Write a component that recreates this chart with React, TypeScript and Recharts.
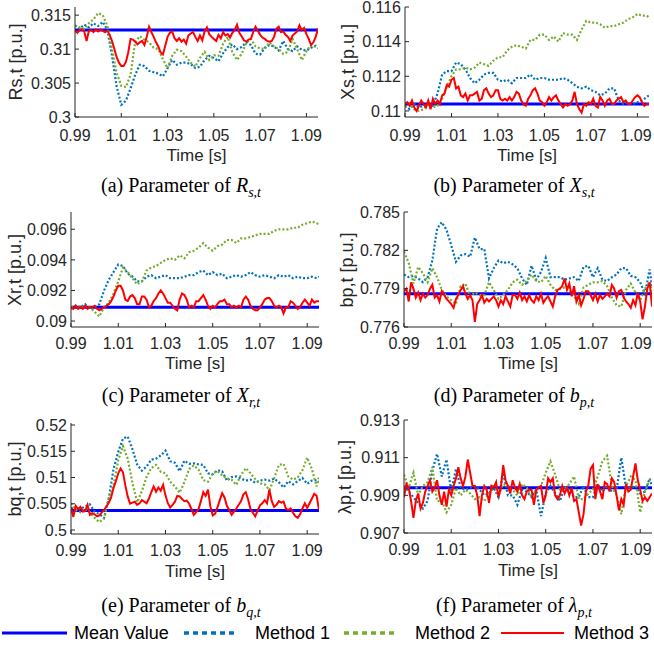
import React from 'react';
import { LineChart, Line, XAxis, YAxis } from 'recharts';

// ---------- sample grids ----------
const timeFine = Array.from({ length: 106 }, (_, i) => Math.round((0.99 + i * 0.001) * 1000) / 1000);
const timeCoarse = [...Array.from({ length: 53 }, (_, j) => Math.round((0.99 + j * 0.002) * 1000) / 1000), 1.095];
const timeMean = [0.99, 1.095];
const timeTicks = [0.99, 1.01, 1.03, 1.05, 1.07, 1.09];
const timeTickLabels = ['0.99', '1.01', '1.03', '1.05', '1.07', '1.09'];

// ---------- (a) Rs,t ----------
const rsMean = [0.3128, 0.3128];
const rsM1 = [0.3135,0.3130,0.3136,0.3132,0.3138,0.3134,0.3140,0.3128,0.3090,0.3045,
0.3018,0.3024,0.3042,0.3062,0.3077,0.3075,0.3068,0.3066,0.3064,0.3060,
0.3072,0.3084,0.3077,0.3080,0.3080,0.3078,0.3072,0.3074,0.3084,0.3090,
0.3087,0.3082,0.3094,0.3103,0.3107,0.3100,0.3103,0.3110,0.3106,0.3093,
0.3092,0.3102,0.3106,0.3104,0.3098,0.3112,0.3100,0.3097,0.3104,0.3099,
0.3098,0.3102,0.3105,0.3103];
const rsM2 = [0.3135,0.3132,0.3130,0.3138,0.3144,0.3153,0.3150,0.3134,0.3100,0.3065,
0.3046,0.3044,0.3062,0.3110,0.3119,0.3114,0.3110,0.3102,0.3100,0.3085,
0.3072,0.3090,0.3099,0.3097,0.3089,0.3080,0.3074,0.3087,0.3096,0.3084,
0.3091,0.3090,0.3108,0.3118,0.3095,0.3084,0.3093,0.3109,0.3115,0.3104,
0.3101,0.3100,0.3110,0.3104,0.3100,0.3093,0.3096,0.3115,0.3100,0.3084,
0.3097,0.3106,0.3103,0.3101];
const rsM3 = [0.3127,0.3124,0.3128,0.3129,0.3126,0.3112,0.3127,0.3128,0.3125,0.3129,
0.3126,0.3129,0.3127,0.3125,0.3127,0.3121,0.3112,0.3100,0.3088,0.3080,
0.3075,0.3075,0.3081,0.3095,0.3115,0.3114,0.3111,0.3107,0.3110,0.3112,
0.3106,0.3118,0.3133,0.3125,0.3118,0.3110,0.3104,0.3095,0.3092,0.3105,
0.3118,0.3124,0.3126,0.3116,0.3112,0.3116,0.3111,0.3114,0.3108,0.3120,
0.3123,0.3125,0.3118,0.3112,0.3120,0.3113,0.3126,0.3132,0.3122,0.3118,
0.3115,0.3112,0.3121,0.3116,0.3125,0.3120,0.3122,0.3117,0.3124,0.3128,
0.3136,0.3124,0.3119,0.3113,0.3111,0.3114,0.3115,0.3125,0.3133,0.3127,
0.3121,0.3117,0.3115,0.3112,0.3111,0.3112,0.3118,0.3130,0.3133,0.3125,
0.3126,0.3121,0.3118,0.3112,0.3120,0.3123,0.3126,0.3135,0.3128,0.3131,
0.3122,0.3115,0.3106,0.3110,0.3118,0.3130];
const rsTicks = [0.3, 0.305, 0.31, 0.315];
const rsTickLabels = ['0.3', '0.305', '0.31', '0.315'];

// ---------- (b) Xs,t ----------
const xsMean = [0.1104, 0.1104];
const xsM1 = [0.1103,0.1101,0.1104,0.1102,0.1103,0.1104,0.1103,0.1110,0.1121,0.1123,
0.1123,0.1128,0.1127,0.1124,0.1119,0.1116,0.1118,0.1121,0.1122,0.1122,
0.1118,0.1117,0.1118,0.1116,0.1119,0.1119,0.1119,0.1121,0.1118,0.1119,
0.1119,0.1118,0.1118,0.1118,0.1119,0.1118,0.1116,0.1114,0.1113,0.1114,
0.1112,0.1111,0.1109,0.1110,0.1113,0.1113,0.1106,0.1104,0.1105,0.1104,
0.1105,0.1106,0.1108,0.1109];
const xsM2 = [0.1102,0.1104,0.1101,0.1100,0.1101,0.1104,0.1102,0.1103,0.1107,0.1114,
0.1120,0.1124,0.1124,0.1125,0.1124,0.1125,0.1128,0.1127,0.1126,0.1129,
0.1131,0.1131,0.1135,0.1137,0.1138,0.1137,0.1136,0.1141,0.1141,0.1144,
0.1144,0.1141,0.1143,0.1140,0.1145,0.1144,0.1144,0.1141,0.1147,0.1152,
0.1151,0.1151,0.1150,0.1148,0.1149,0.1149,0.1150,0.1151,0.1153,0.1154,
0.1156,0.1155,0.1155,0.1154];
const xsM3 = [0.1104,0.1105,0.1103,0.1106,0.1102,0.1100,0.1103,0.1106,0.1104,0.1102,
0.1106,0.1101,0.1107,0.1104,0.1106,0.1104,0.1109,0.1110,0.1115,0.1114,
0.1118,0.1119,0.1113,0.1114,0.1109,0.1108,0.1110,0.1106,0.1109,0.1109,
0.1110,0.1111,0.1106,0.1107,0.1112,0.1113,0.1110,0.1108,0.1109,0.1112,
0.1112,0.1107,0.1106,0.1107,0.1106,0.1108,0.1106,0.1108,0.1111,0.1110,
0.1106,0.1104,0.1103,0.1107,0.1109,0.1112,0.1113,0.1110,0.1106,0.1105,
0.1103,0.1105,0.1108,0.1106,0.1108,0.1109,0.1106,0.1104,0.1102,0.1104,
0.1103,0.1104,0.1106,0.1111,0.1104,0.1101,0.1099,0.1104,0.1103,0.1105,
0.1104,0.1107,0.1103,0.1102,0.1108,0.1106,0.1103,0.1106,0.1107,0.1104,
0.1104,0.1106,0.1107,0.1108,0.1105,0.1106,0.1104,0.1104,0.1106,0.1108,
0.1109,0.1108,0.1105,0.1103,0.1104,0.1104];
const xsTicks = [0.11, 0.112, 0.114, 0.116];
const xsTickLabels = ['0.11', '0.112', '0.114', '0.116'];

// ---------- (c) Xr,t ----------
const xrMean = [0.0909, 0.0909];
const xrM1 = [0.0908,0.0910,0.0909,0.0911,0.0908,0.0909,0.0911,0.0920,0.0927,0.0932,
0.0937,0.0936,0.0931,0.0929,0.0926,0.0926,0.0929,0.0930,0.0928,0.0929,
0.0930,0.0928,0.0928,0.0928,0.0929,0.0930,0.0930,0.0932,0.0933,0.0930,
0.0932,0.0930,0.0931,0.0928,0.0929,0.0930,0.0929,0.0930,0.0932,0.0930,
0.0929,0.0930,0.0929,0.0928,0.0930,0.0929,0.0930,0.0928,0.0929,0.0928,
0.0928,0.0929,0.0928,0.0929];
const xrM2 = [0.0909,0.0910,0.0908,0.0910,0.0909,0.0906,0.0903,0.0909,0.0912,0.0918,
0.0926,0.0935,0.0932,0.0928,0.0924,0.0926,0.0933,0.0935,0.0936,0.0938,
0.0940,0.0941,0.0940,0.0943,0.0941,0.0945,0.0946,0.0948,0.0951,0.0948,
0.0946,0.0949,0.0950,0.0953,0.0953,0.0951,0.0954,0.0954,0.0955,0.0956,
0.0957,0.0957,0.0957,0.0959,0.0960,0.0960,0.0960,0.0961,0.0961,0.0963,
0.0964,0.0965,0.0964,0.0963];
const xrM3 = [0.0909,0.0908,0.0910,0.0908,0.0909,0.0908,0.0910,0.0908,0.0909,0.0909,
0.0910,0.0908,0.0907,0.0908,0.0909,0.0910,0.0911,0.0913,0.0916,0.0920,
0.0923,0.0923,0.0920,0.0914,0.0913,0.0916,0.0917,0.0915,0.0911,0.0911,
0.0916,0.0916,0.0914,0.0909,0.0910,0.0913,0.0915,0.0918,0.0920,0.0918,
0.0915,0.0912,0.0912,0.0910,0.0908,0.0907,0.0914,0.0918,0.0917,0.0914,
0.0909,0.0910,0.0909,0.0913,0.0913,0.0915,0.0917,0.0914,0.0910,0.0908,
0.0910,0.0909,0.0911,0.0913,0.0913,0.0914,0.0911,0.0911,0.0909,0.0910,
0.0909,0.0910,0.0909,0.0914,0.0916,0.0914,0.0910,0.0908,0.0907,0.0907,
0.0909,0.0911,0.0914,0.0915,0.0915,0.0913,0.0910,0.0909,0.0910,0.0909,
0.0905,0.0909,0.0909,0.0913,0.0912,0.0910,0.0908,0.0909,0.0912,0.0914,
0.0912,0.0910,0.0914,0.0912,0.0913,0.0913];
const xrTicks = [0.09, 0.092, 0.094, 0.096];
const xrTickLabels = ['0.09', '0.092', '0.094', '0.096'];

// ---------- (d) bp,t ----------
const bpMean = [0.7786, 0.7786];
const bpM1 = [0.7801,0.7799,0.7800,0.7798,0.7795,0.7799,0.7812,0.7837,0.7842,0.7836,
0.7824,0.7811,0.7816,0.7817,0.7815,0.7830,0.7821,0.7821,0.7798,0.7806,
0.7812,0.7810,0.7811,0.7809,0.7806,0.7798,0.7793,0.7808,0.7797,0.7803,
0.7814,0.7799,0.7799,0.7799,0.7797,0.7798,0.7799,0.7796,0.7807,0.7808,
0.7799,0.7806,0.7797,0.7796,0.7799,0.7801,0.7806,0.7806,0.7800,0.7799,
0.7795,0.7786,0.7805,0.7792];
const bpM2 = [0.7819,0.7810,0.7794,0.7807,0.7802,0.7795,0.7806,0.7799,0.7789,0.7784,
0.7781,0.7778,0.7792,0.7794,0.7784,0.7787,0.7785,0.7785,0.7795,0.7789,
0.7782,0.7785,0.7789,0.7795,0.7797,0.7793,0.7796,0.7801,0.7796,0.7795,
0.7800,0.7793,0.7789,0.7790,0.7791,0.7789,0.7784,0.7778,0.7791,0.7793,
0.7795,0.7795,0.7796,0.7792,0.7783,0.7777,0.7776,0.7789,0.7794,0.7787,
0.7781,0.7790,0.7795,0.7786];
const bpM3 = [0.7788,0.7790,0.7780,0.7795,0.7790,0.7783,0.7787,0.7781,0.7786,0.7783,
0.7785,0.7790,0.7793,0.7783,0.7785,0.7780,0.7788,0.7785,0.7782,0.7780,
0.7778,0.7775,0.7782,0.7785,0.7789,0.7792,0.7786,0.7782,0.7785,0.7781,
0.7764,0.7778,0.7781,0.7785,0.7779,0.7782,0.7780,0.7782,0.7784,0.7781,
0.7776,0.7781,0.7778,0.7784,0.7780,0.7776,0.7785,0.7785,0.7782,0.7787,
0.7781,0.7784,0.7780,0.7785,0.7781,0.7779,0.7784,0.7781,0.7786,0.7779,
0.7782,0.7784,0.7780,0.7776,0.7784,0.7789,0.7790,0.7792,0.7798,0.7789,
0.7794,0.7784,0.7792,0.7780,0.7785,0.7777,0.7782,0.7788,0.7788,0.7785,
0.7781,0.7786,0.7780,0.7785,0.7782,0.7784,0.7786,0.7784,0.7793,0.7790,
0.7783,0.7788,0.7789,0.7783,0.7780,0.7778,0.7775,0.7781,0.7777,0.7787,
0.7780,0.7766,0.7776,0.7790,0.7795,0.7776];
const bpTicks = [0.776, 0.779, 0.782, 0.785];
const bpTickLabels = ['0.776', '0.779', '0.782', '0.785'];

// ---------- (e) bq,t ----------
const bqMean = [0.5037, 0.5037];
const bqM1 = [0.5041,0.5044,0.5040,0.5045,0.5049,0.5035,0.5030,0.5023,0.5060,0.5116,
0.5149,0.5174,0.5178,0.5154,0.5125,0.5113,0.5121,0.5134,0.5136,0.5142,
0.5151,0.5131,0.5128,0.5112,0.5132,0.5126,0.5127,0.5125,0.5124,0.5108,
0.5106,0.5114,0.5112,0.5094,0.5101,0.5102,0.5098,0.5094,0.5096,0.5090,
0.5094,0.5096,0.5094,0.5098,0.5091,0.5081,0.5093,0.5087,0.5093,0.5099,
0.5088,0.5094,0.5095,0.5092];
const bqM2 = [0.5051,0.5038,0.5034,0.5041,0.5034,0.5023,0.5015,0.5022,0.5061,0.5084,
0.5133,0.5160,0.5136,0.5090,0.5053,0.5074,0.5101,0.5118,0.5124,0.5111,
0.5108,0.5092,0.5083,0.5071,0.5091,0.5116,0.5123,0.5115,0.5095,0.5092,
0.5108,0.5112,0.5104,0.5098,0.5096,0.5086,0.5105,0.5118,0.5108,0.5097,
0.5089,0.5087,0.5076,0.5098,0.5124,0.5126,0.5102,0.5096,0.5100,0.5114,
0.5138,0.5116,0.5083,0.5102];
const bqM3 = [0.5042,0.5025,0.5046,0.5040,0.5044,0.5035,0.5036,0.5048,0.5029,0.5032,
0.5030,0.5026,0.5028,0.5033,0.5038,0.5045,0.5052,0.5062,0.5080,0.5093,
0.5108,0.5117,0.5110,0.5085,0.5064,0.5050,0.5052,0.5054,0.5048,0.5051,
0.5057,0.5054,0.5051,0.5060,0.5072,0.5083,0.5073,0.5081,0.5075,0.5086,
0.5066,0.5051,0.5043,0.5048,0.5054,0.5065,0.5064,0.5059,0.5055,0.5056,
0.5050,0.5040,0.5029,0.5034,0.5040,0.5055,0.5072,0.5065,0.5077,0.5045,
0.5028,0.5031,0.5043,0.5057,0.5070,0.5062,0.5046,0.5038,0.5029,0.5035,
0.5041,0.5048,0.5055,0.5068,0.5072,0.5058,0.5040,0.5033,0.5026,0.5037,
0.5047,0.5051,0.5057,0.5051,0.5077,0.5055,0.5044,0.5048,0.5055,0.5052,
0.5054,0.5041,0.5038,0.5041,0.5033,0.5026,0.5023,0.5030,0.5041,0.5051,
0.5042,0.5051,0.5060,0.5069,0.5065,0.5038];
const bqTicks = [0.5, 0.505, 0.51, 0.515, 0.52];
const bqTickLabels = ['0.5', '0.505', '0.51', '0.515', '0.52'];

// ---------- (f) λp,t ----------
const lpMean = [0.9094, 0.9094];
const lpM1 = [0.9095,0.9092,0.9089,0.9086,0.9083,0.9087,0.9103,0.9112,0.9100,0.9109,
0.9092,0.9104,0.9094,0.9093,0.9094,0.9095,0.9093,0.9090,0.9091,0.9094,
0.9089,0.9102,0.9090,0.9090,0.9085,0.9093,0.9092,0.9089,0.9093,0.9079,
0.9091,0.9095,0.9091,0.9087,0.9094,0.9093,0.9089,0.9089,0.9095,0.9089,
0.9089,0.9096,0.9092,0.9095,0.9092,0.9093,0.9110,0.9094,0.9094,0.9095,
0.9091,0.9092,0.9099,0.9095];
const lpM2 = [0.9101,0.9094,0.9102,0.9090,0.9095,0.9097,0.9105,0.9087,0.9087,0.9081,
0.9085,0.9094,0.9090,0.9093,0.9091,0.9088,0.9089,0.9087,0.9091,0.9096,
0.9090,0.9096,0.9095,0.9093,0.9090,0.9096,0.9094,0.9089,0.9093,0.9095,
0.9102,0.9108,0.9101,0.9093,0.9093,0.9096,0.9100,0.9088,0.9088,0.9091,
0.9093,0.9100,0.9108,0.9111,0.9095,0.9090,0.9080,0.9095,0.9100,0.9098,
0.9081,0.9092,0.9098,0.9099];
const lpM3 = [0.9089,0.9096,0.9094,0.9087,0.9078,0.9087,0.9091,0.9083,0.9086,0.9092,
0.9095,0.9098,0.9092,0.9094,0.9098,0.9090,0.9085,0.9092,0.9084,0.9093,
0.9090,0.9095,0.9099,0.9105,0.9099,0.9095,0.9100,0.9109,0.9102,0.9095,
0.9095,0.9090,0.9079,0.9090,0.9095,0.9093,0.9086,0.9095,0.9094,0.9097,
0.9089,0.9094,0.9106,0.9098,0.9095,0.9091,0.9098,0.9094,0.9092,0.9096,
0.9090,0.9088,0.9092,0.9093,0.9093,0.9085,0.9093,0.9094,0.9095,0.9086,
0.9090,0.9099,0.9097,0.9099,0.9090,0.9088,0.9090,0.9095,0.9091,0.9094,
0.9090,0.9094,0.9087,0.9088,0.9081,0.9074,0.9080,0.9092,0.9095,0.9104,
0.9106,0.9088,0.9096,0.9092,0.9088,0.9097,0.9096,0.9092,0.9099,0.9097,
0.9090,0.9082,0.9088,0.9085,0.9096,0.9092,0.9093,0.9100,0.9107,0.9098,
0.9093,0.9087,0.9089,0.9087,0.9089,0.9091];
const lpTicks = [0.907, 0.909, 0.911, 0.913];
const lpTickLabels = ['0.907', '0.909', '0.911', '0.913'];

// ---------- styling ----------
const SANS = '"Liberation Sans", Arial, Helvetica, sans-serif';
const SERIF = '"Liberation Serif", "Times New Roman", Times, serif';
const AXIS_COLOR = '#262626';
const C_MEAN = '#0000FF';
const C_M1 = '#0072BD';
const C_M2 = '#77AC30';
const C_M3 = '#FF0000';
const TICK_FONT = 16;

const toPts = (times: number[], vals: number[]) => times.map((t, i) => ({ t, v: vals[i] }));

type PanelCfg = {
  id: string;
  l: number; r: number; t: number; b: number;
  padRight: number;
  xTickGap: number;
  xTitleGap: number;
  yDomain: [number, number];
  yTicks: number[];
  yTickLabels: string[];
  yLabel: string;
  yLabelOffset: number;
  mean: number[]; m1: number[]; m2: number[]; m3: number[];
  caption: React.ReactNode;
};

const sub = (s: string) => (
  <span style={{ fontSize: 14, fontStyle: 'italic', position: 'relative', top: 5 }}>{s}</span>
);

const panels: PanelCfg[] = [
  { id: 'a', l: 75, r: 318, t: 7, b: 117, padRight: 16, xTickGap: 17, xTitleGap: 38,
    yDomain: [0.3, 0.3162], yTicks: rsTicks, yTickLabels: rsTickLabels,
    yLabel: 'Rs,t [p.u.]', yLabelOffset: 59, mean: rsMean, m1: rsM1, m2: rsM2, m3: rsM3,
    caption: <>(a) Parameter of <i>R</i>{sub('s,t')}</> },
  { id: 'b', l: 405, r: 649, t: 7, b: 117, padRight: 5, xTickGap: 17, xTitleGap: 38,
    yDomain: [0.10965, 0.116], yTicks: xsTicks, yTickLabels: xsTickLabels,
    yLabel: 'Xs,t [p.u.]', yLabelOffset: 57, mean: xsMean, m1: xsM1, m2: xsM2, m3: xsM3,
    caption: <>(b) Parameter of <i>X</i>{sub('s,t')}</> },
  { id: 'c', l: 71, r: 319, t: 212, b: 327, padRight: 16, xTickGap: 15, xTitleGap: 36,
    yDomain: [0.08961, 0.09713], yTicks: xrTicks, yTickLabels: xrTickLabels,
    yLabel: 'Xr,t [p.u.]', yLabelOffset: 56, mean: xrMean, m1: xrM1, m2: xrM2, m3: xrM3,
    caption: <>(c) Parameter of <i>X</i>{sub('r,t')}</> },
  { id: 'd', l: 404, r: 652, t: 212, b: 327, padRight: 2, xTickGap: 15, xTitleGap: 36,
    yDomain: [0.776, 0.785], yTicks: bpTicks, yTickLabels: bpTickLabels,
    yLabel: 'bp,t [p.u.]', yLabelOffset: 57, mean: bpMean, m1: bpM1, m2: bpM2, m3: bpM3,
    caption: <>(d) Parameter of <i>b</i>{sub('p,t')}</> },
  { id: 'e', l: 71, r: 319, t: 423, b: 534, padRight: 16, xTickGap: 15, xTitleGap: 37,
    yDomain: [0.49924, 0.52038], yTicks: bqTicks, yTickLabels: bqTickLabels,
    yLabel: 'bq,t [p.u.]', yLabelOffset: 56, mean: bqMean, m1: bqM1, m2: bqM2, m3: bqM3,
    caption: <>(e) Parameter of <i>b</i>{sub('q,t')}</> },
  { id: 'f', l: 404, r: 652, t: 420, b: 533, padRight: 2, xTickGap: 15, xTitleGap: 37,
    yDomain: [0.907, 0.913], yTicks: lpTicks, yTickLabels: lpTickLabels,
    yLabel: 'λp,t [p.u.]', yLabelOffset: 59, mean: lpMean, m1: lpM1, m2: lpM2, m3: lpM3,
    caption: <>(f) Parameter of <i>λ</i>{sub('p,t')}</> },
];

const Y_AXIS_W = 64;
const X_AXIS_H = 44;
const PAD_TOP = 10;
const PAGE_W = 654;

function Panel({ cfg }: { cfg: PanelCfg }) {
  const pw = cfg.r - cfg.l;
  const ph = cfg.b - cfg.t;
  const W = pw + Y_AXIS_W + cfg.padRight;
  const H = ph + X_AXIS_H + PAD_TOP;
  const originX = cfg.l - Y_AXIS_W;
  const tickStyle = { fill: AXIS_COLOR, fontSize: TICK_FONT, fontFamily: SANS };
  // keep the last time label inside the page (the reference shows it fully)
  const maxCenter = PAGE_W - 2 - originX - 16;
  const XTick = (props: any) => {
    const { x, y, index } = props;
    return (
      <text x={Math.min(x, maxCenter)} y={y} dy="0.71em" textAnchor="middle" fill={AXIS_COLOR}
        fontSize={TICK_FONT} fontFamily={SANS}>{timeTickLabels[index]}</text>
    );
  };
  return (
    <div style={{ position: 'absolute', left: originX, top: cfg.t - PAD_TOP, width: W, height: H }}>
      <LineChart width={W} height={H} margin={{ top: PAD_TOP, right: cfg.padRight, bottom: 0, left: 0 }}
        style={{ overflow: 'visible' }}>
        <XAxis xAxisId="bottom" dataKey="t" type="number" domain={[0.99, 1.095]} allowDataOverflow
          ticks={timeTicks} interval={0}
          height={X_AXIS_H} tickSize={-4} tickMargin={cfg.xTickGap} stroke={AXIS_COLOR} tick={<XTick />} />
        <XAxis xAxisId="top" orientation="top" dataKey="t" type="number" domain={[0.99, 1.095]} allowDataOverflow
          ticks={timeTicks} interval={0} height={0} tickSize={-4} tick={false} stroke={AXIS_COLOR} />
        <YAxis yAxisId="left" type="number" domain={cfg.yDomain} allowDataOverflow ticks={cfg.yTicks} interval={0}
          tickFormatter={(v: number, i: number) => cfg.yTickLabels[i]}
          width={Y_AXIS_W} tickSize={-4} tickMargin={8} stroke={AXIS_COLOR} tick={tickStyle} />
        <YAxis yAxisId="right" orientation="right" type="number" domain={cfg.yDomain} allowDataOverflow
          ticks={cfg.yTicks} interval={0} width={0} tickSize={-4} tick={false} stroke={AXIS_COLOR} />
        <Line xAxisId="bottom" yAxisId="left" data={toPts(timeMean, cfg.mean)} dataKey="v" stroke={C_MEAN}
          strokeWidth={3} dot={false} activeDot={false} isAnimationActive={false} />
        <Line xAxisId="bottom" yAxisId="left" data={toPts(timeCoarse, cfg.m1)} dataKey="v" stroke={C_M1}
          strokeWidth={2.2} strokeDasharray="2 2" dot={false} activeDot={false} isAnimationActive={false} />
        <Line xAxisId="bottom" yAxisId="left" data={toPts(timeCoarse, cfg.m2)} dataKey="v" stroke={C_M2}
          strokeWidth={2.2} strokeDasharray="2 2" dot={false} activeDot={false} isAnimationActive={false} />
        <Line xAxisId="bottom" yAxisId="left" data={toPts(timeFine, cfg.m3)} dataKey="v" stroke={C_M3}
          strokeWidth={2} dot={false} activeDot={false} isAnimationActive={false} />
      </LineChart>
      {/* y axis title */}
      <div style={{ position: 'absolute', left: Y_AXIS_W - cfg.yLabelOffset, top: PAD_TOP + ph / 2,
        transform: 'translate(-50%, -50%) rotate(-90deg)', whiteSpace: 'nowrap', fontFamily: SANS,
        fontSize: 18, color: AXIS_COLOR, lineHeight: 1 }}>{cfg.yLabel}</div>
      {/* x axis title */}
      <div style={{ position: 'absolute', left: Y_AXIS_W + pw / 2, top: PAD_TOP + ph + cfg.xTitleGap,
        transform: 'translate(-50%, -50%)', whiteSpace: 'nowrap', fontFamily: SANS,
        fontSize: 17, color: AXIS_COLOR, lineHeight: 1 }}>Time [s]</div>
    </div>
  );
}

const captionPos = [
  { x: 181, y: 185 }, { x: 514, y: 185 },
  { x: 181, y: 395 }, { x: 514, y: 395 },
  { x: 181, y: 605 }, { x: 514, y: 605 },
];

export default function App() {
  return (
    <div style={{ position: 'absolute', left: 0, top: 0, width: 654, height: 648, background: '#fff', overflow: 'hidden' }}>
      {panels.map((p) => <Panel key={p.id} cfg={p} />)}
      {panels.map((p, i) => (
        <div key={'cap' + p.id} style={{ position: 'absolute', left: captionPos[i].x, top: captionPos[i].y,
          transform: 'translate(-50%, -50%)', whiteSpace: 'nowrap', fontFamily: SERIF, fontSize: 20,
          color: '#000', lineHeight: 1 }}>{p.caption}</div>
      ))}
      <svg width={654} height={26} style={{ position: 'absolute', left: 0, top: 620 }}>
        <line x1={2} x2={67} y1={13} y2={13} stroke={C_MEAN} strokeWidth={3} />
        <text x={74} y={19} fontFamily={SANS} fontSize={18} fill="#000">Mean Value</text>
        <line x1={184} x2={238} y1={13} y2={13} stroke={C_M1} strokeWidth={3.5} strokeDasharray="5 4" />
        <text x={255} y={19} fontFamily={SANS} fontSize={18} fill="#000">Method 1</text>
        <line x1={344} x2={397} y1={13} y2={13} stroke={C_M2} strokeWidth={3.5} strokeDasharray="5 4" />
        <text x={415} y={19} fontFamily={SANS} fontSize={18} fill="#000">Method 2</text>
        <line x1={501} x2={564} y1={13} y2={13} stroke={C_M3} strokeWidth={2} />
        <text x={574} y={19} fontFamily={SANS} fontSize={18} fill="#000">Method 3</text>
      </svg>
    </div>
  );
}
